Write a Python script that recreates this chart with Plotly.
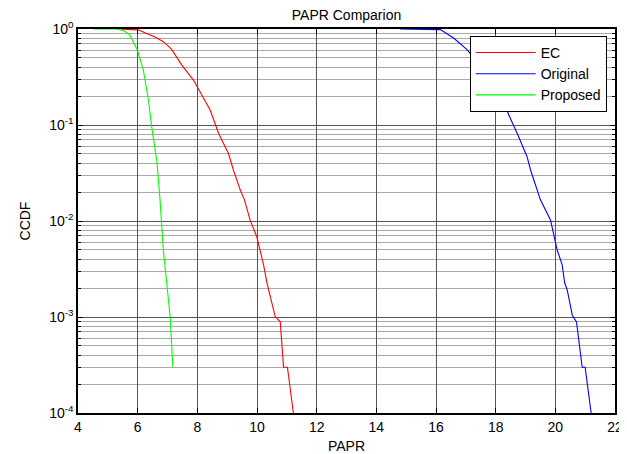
import plotly.graph_objects as go

# ---- data ----
ec_x = [5.3, 5.8, 6.02, 6.3, 6.6, 6.86, 7.14, 7.48, 7.87, 8.09, 8.43, 8.71, 9.04, 9.21,
        9.44, 9.58, 9.77, 9.99, 10.1, 10.22, 10.33, 10.5, 10.61, 10.78, 10.89, 11.02, 11.22]
ec_y = [1.0, 0.995, 0.98, 0.90, 0.82, 0.738, 0.614, 0.42, 0.294, 0.222, 0.143, 0.082, 0.0507, 0.034,
        0.021, 0.0166, 0.0102, 0.0069, 0.005, 0.0035, 0.0023, 0.0014, 0.00101, 0.00089, 0.0003, 0.0003, 0.0001]

orig_x = [14.8, 15.98, 16.15, 16.6, 17.04, 17.5, 17.9, 18.22, 18.44, 18.72, 19.05, 19.17,
          19.39, 19.5, 19.84, 19.95, 20.06, 20.23, 20.31, 20.4, 20.57, 20.71, 20.9, 21.0, 21.2]
orig_y = [1.0, 1.0, 0.985, 0.80, 0.61, 0.41, 0.29, 0.197, 0.127, 0.082, 0.047, 0.034,
          0.021, 0.0166, 0.0102, 0.0069, 0.005, 0.0035, 0.0023, 0.0019, 0.00104, 0.00089, 0.0003, 0.0003, 0.0001]

prop_x = [4.5, 5.3, 5.45, 5.58, 5.74, 5.99, 6.19, 6.36, 6.47, 6.64, 6.75, 6.86, 7.09, 7.18]
prop_y = [1.0, 1.0, 0.98, 0.94, 0.866, 0.604, 0.374, 0.182, 0.096, 0.043, 0.0166, 0.005, 0.001, 0.0003]

x_ticks = [4, 6, 8, 10, 12, 14, 16, 18, 20, 22]
y_ticks = [1e-4, 1e-3, 1e-2, 1e-1, 1e0]
y_tick_text = ["10<sup>-4</sup>", "10<sup>-3</sup>", "10<sup>-2</sup>", "10<sup>-1</sup>", "10<sup>0</sup>"]
y_minor = [m * 10 ** e for e in range(-4, 0) for m in range(2, 10)]

font = "Arial, Liberation Sans, sans-serif"

# page body adds an 8px offset, so the figure is sized to fit the window
W, H = 619, 446

fig = go.Figure()
fig.add_trace(go.Scatter(x=ec_x, y=ec_y, mode="lines", name="EC",
                         line=dict(color="#ff0000", width=1.1)))
fig.add_trace(go.Scatter(x=orig_x, y=orig_y, mode="lines", name="Original",
                         line=dict(color="#0000ff", width=1.1)))
fig.add_trace(go.Scatter(x=prop_x, y=prop_y, mode="lines", name="Proposed",
                         line=dict(color="#00ff00", width=1.1)))

fig.update_layout(
    width=W, height=H,
    margin=dict(l=70, r=12, t=21, b=41),
    paper_bgcolor="white", plot_bgcolor="white",
    font=dict(family=font, size=14, color="black"),
    title=dict(text="PAPR Comparion", x=0.5, xref="paper", xanchor="center",
               y=1 - 2 / H, yref="container", yanchor="top", pad=dict(t=0, b=0),
               font=dict(family=font, size=14, color="black")),
    showlegend=True,
    legend=dict(x=0.9845, y=0.982, xanchor="right", yanchor="top",
                bgcolor="white", bordercolor="black", borderwidth=1,
                font=dict(family=font, size=14, color="black"),
                itemwidth=60, tracegroupgap=0),
)

fig.update_xaxes(
    range=[4, 22], tickvals=x_ticks, ticktext=[str(v) for v in x_ticks],
    showline=True, linecolor="black", linewidth=1.5, mirror="allticks",
    ticks="inside", ticklen=5, tickcolor="black", automargin=False,
    showgrid=True, gridcolor="#555555", gridwidth=1, zeroline=False,
    tickfont=dict(family=font, size=14),
    title=dict(text="PAPR", font=dict(family=font, size=14)),
)
fig.update_yaxes(
    type="log", range=[-4, 0], tickvals=y_ticks, ticktext=y_tick_text,
    showline=True, linecolor="black", linewidth=1.5, mirror="allticks",
    ticks="inside", ticklen=5, tickcolor="black", automargin=False,
    showgrid=True, gridcolor="#555555", gridwidth=1, zeroline=False,
    tickfont=dict(family=font, size=14),
    minor=dict(tickvals=y_minor, ticks="inside", ticklen=3, tickcolor="black",
               showgrid=True, gridcolor="#a8a8a8", gridwidth=1),
    title=dict(text="CCDF", font=dict(family=font, size=14)),
)

fig.write_html("out.html")
